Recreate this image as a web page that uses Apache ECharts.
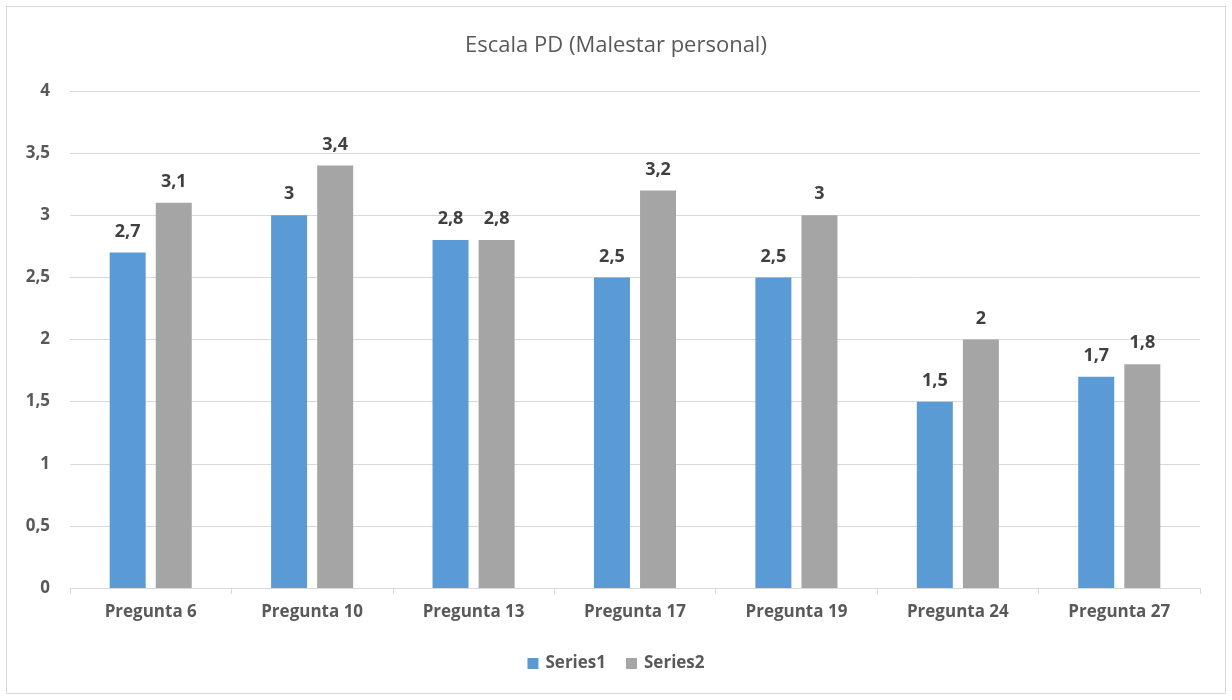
<!DOCTYPE html>
<html>
<head>
<meta charset="utf-8">
<script src="https://cdn.jsdelivr.net/npm/echarts@6/dist/echarts.min.js"></script>
<style>
  html, body { margin: 0; padding: 0; background: #fff; }
  #frame { position: absolute; left: 6px; top: 6px; width: 1220px; height: 688px; border: 1px solid #d9d9d9; box-sizing: border-box; }
  #chart { position: absolute; left: 0; top: 0; width: 1232px; height: 700px; }
</style>
</head>
<body>
<div id="frame"></div>
<div id="chart"></div>
<script>
const categories = ['Pregunta 6', 'Pregunta 10', 'Pregunta 13', 'Pregunta 17', 'Pregunta 19', 'Pregunta 24', 'Pregunta 27'];
const series1 = [2.7, 3.0, 2.8, 2.5, 2.5, 1.5, 1.7];
const series2 = [3.1, 3.4, 2.8, 3.2, 3.0, 2.0, 1.8];
const seriesNames = ['Series1', 'Series2'];
const titleText = 'Escala PD (Malestar personal)';

const FONT = '"Open Sans", "Liberation Sans", sans-serif';
const comma = v => String(v).replace('.', ',');

const chart = echarts.init(document.getElementById('chart'), null, { renderer: 'canvas' });

const labelStyle = {
  show: true,
  position: 'top',
  distance: 12,
  color: '#404040',
  fontFamily: FONT,
  fontWeight: 'bold',
  fontSize: 18,
  formatter: p => comma(p.value)
};

chart.setOption({
  animation: false,
  backgroundColor: 'transparent',
  title: {
    text: titleText,
    left: 'center',
    top: 30,
    textStyle: { color: '#595959', fontFamily: FONT, fontWeight: 'normal', fontSize: 22 }
  },
  legend: {
    data: seriesNames,
    bottom: 23,
    left: 'center',
    itemWidth: 11,
    itemHeight: 11,
    itemGap: 20,
    icon: 'rect',
    textStyle: { color: '#595959', fontFamily: FONT, fontWeight: 'bold', fontSize: 17, padding: [0, 0, 0, 2] }
  },
  grid: { left: 70, right: 32, top: 91, bottom: 112, containLabel: false },
  xAxis: {
    type: 'category',
    data: categories,
    axisLine: { lineStyle: { color: '#d9d9d9', width: 1 } },
    axisTick: { show: true, length: 6, lineStyle: { color: '#d9d9d9' } },
    axisLabel: { color: '#595959', fontFamily: FONT, fontWeight: 'bold', fontSize: 17, margin: 16 }
  },
  yAxis: {
    type: 'value',
    min: 0,
    max: 4,
    interval: 0.5,
    axisLine: { show: false },
    axisTick: { show: false },
    splitLine: { lineStyle: { color: '#d9d9d9', width: 1 } },
    axisLabel: { color: '#595959', fontFamily: FONT, fontWeight: 'bold', fontSize: 17, margin: 20, formatter: v => comma(v) }
  },
  series: [
    {
      name: seriesNames[0],
      type: 'bar',
      data: series1,
      barWidth: 36,
      barGap: '28%',
      itemStyle: { color: '#5b9bd5' },
      label: labelStyle
    },
    {
      name: seriesNames[1],
      type: 'bar',
      data: series2,
      barWidth: 36,
      barGap: '28%',
      itemStyle: { color: '#a5a5a5' },
      label: labelStyle
    }
  ]
});
</script>
</body>
</html>
